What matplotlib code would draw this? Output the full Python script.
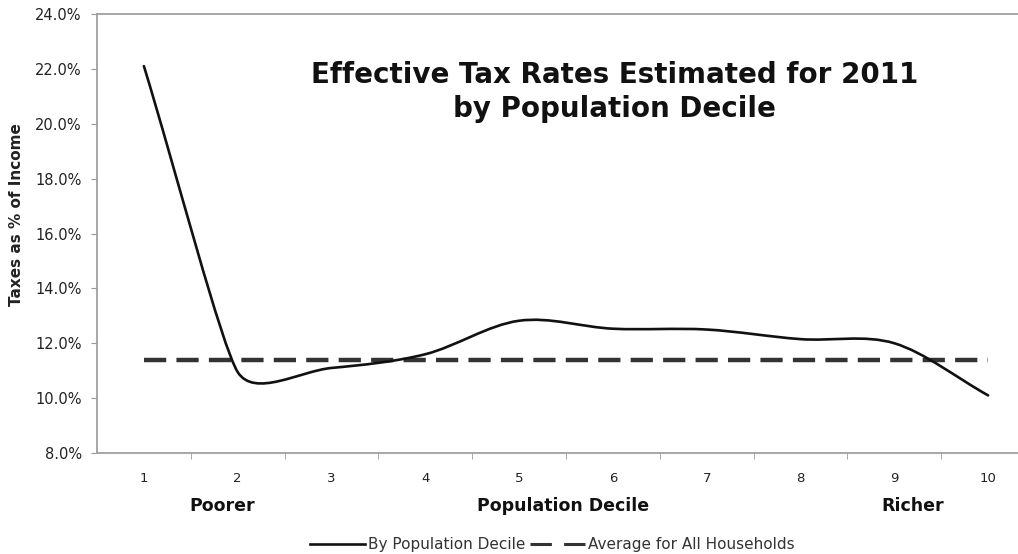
import numpy as np
import matplotlib
matplotlib.use("Agg")
import matplotlib.pyplot as plt
from matplotlib.path import Path
from matplotlib.patches import PathPatch
from matplotlib.lines import Line2D
from matplotlib.ticker import FormatStrFormatter, FixedLocator

# data
deciles = [1, 2, 3, 4, 5, 6, 7, 8, 9, 10]
rates = [22.1, 10.95, 11.1, 11.6, 12.82, 12.53, 12.5, 12.15, 12.0, 10.1]
avg_rate = 11.4
ytick_vals = [8, 10, 12, 14, 16, 18, 20, 22, 24]

fig = plt.figure(figsize=(10.18, 5.54), dpi=100)
ax = fig.add_axes([97 / 1018, 1 - 453 / 554, (1035 - 97) / 1018, (453 - 14) / 554])

# smooth (Excel-like) line: bezier segments through the points, built as a Path
asp = 0.293  # y-per-% vs x-per-decile in pixels
x = np.array(deciles, float)
y = np.array(rates, float)
ys = y * asp
n = len(x)
seg = np.hypot(np.diff(x), np.diff(ys))
tang, hlen = [], []
for i in range(n):
    a = max(i - 1, 0)
    b = min(i + 1, n - 1)
    v = np.array([x[b] - x[a], ys[b] - ys[a]])
    tang.append(v / np.hypot(*v))
    near = [seg[j] for j in (i - 1, i) if 0 <= j < n - 1]
    hlen.append(min(near) / 3)
verts = [(x[0], y[0])]
codes = [Path.MOVETO]
for i in range(n - 1):
    c1 = (x[i] + tang[i][0] * hlen[i], (ys[i] + tang[i][1] * hlen[i]) / asp)
    c2 = (x[i + 1] - tang[i + 1][0] * hlen[i + 1],
          (ys[i + 1] - tang[i + 1][1] * hlen[i + 1]) / asp)
    verts += [c1, c2, (x[i + 1], y[i + 1])]
    codes += [Path.CURVE4] * 3
ax.add_patch(PathPatch(Path(verts, codes), fill=False, ec="#111111", lw=1.9,
                       capstyle="round", zorder=3))

ax.plot([deciles[0], deciles[-1]], [avg_rate, avg_rate], color="#333333", lw=3.2,
        dashes=(5.0, 2.3), zorder=2)

ax.set_xlim(0.5, 10.5)
ax.set_ylim(8, 24)
ax.set_yticks(ytick_vals)
ax.yaxis.set_major_formatter(FormatStrFormatter("%.1f%%"))
ax.set_xticks(deciles)
ax.set_xticklabels([str(d) for d in deciles])
ax.xaxis.set_minor_locator(FixedLocator([d + 0.5 for d in deciles[:-1]]))
ax.tick_params(axis="x", which="major", length=0, pad=14, labelsize=9.5, labelcolor="#222222")
ax.tick_params(axis="x", which="minor", length=4, color="#999999", direction="out")
ax.tick_params(axis="y", length=4, color="#999999", direction="out", pad=7,
               labelsize=10.5, labelcolor="#222222")
for s in ["left", "bottom", "top"]:
    ax.spines[s].set_color("#a0a0a0")
    ax.spines[s].set_linewidth(1.3)
ax.spines["right"].set_visible(False)

fig.text(17 / 1018, 1 - 215 / 554, "Taxes as % of Income", rotation=90, ha="center",
         va="center", fontsize=11, fontweight="bold", color="#222222")

ax.text(0.552, 1 - (92 - 14) / 439, "Effective Tax Rates Estimated for 2011\nby Population Decile",
        transform=ax.transAxes, ha="center", va="center", fontsize=20,
        fontweight="bold", linespacing=1.25, color="#111111")

for label, xpos in [("Poorer", 222), ("Population Decile", 563), ("Richer", 913)]:
    fig.text(xpos / 1018, 1 - 506 / 554, label, ha="center", va="center",
             fontsize=12.5, fontweight="bold", color="#111111")

handles = [Line2D([], [], color="#111111", lw=1.9),
           Line2D([], [], color="#333333", lw=2.2, dashes=(7, 4))]
fig.legend(handles, ["By Population Decile", "Average for All Households"],
           loc="center", bbox_to_anchor=(552 / 1018, 1 - 545 / 554), ncol=2,
           frameon=False, fontsize=11, handlelength=3.6, handletextpad=0.2,
           columnspacing=0.3, labelcolor="#333333")

fig.savefig("out.png", dpi=100)
